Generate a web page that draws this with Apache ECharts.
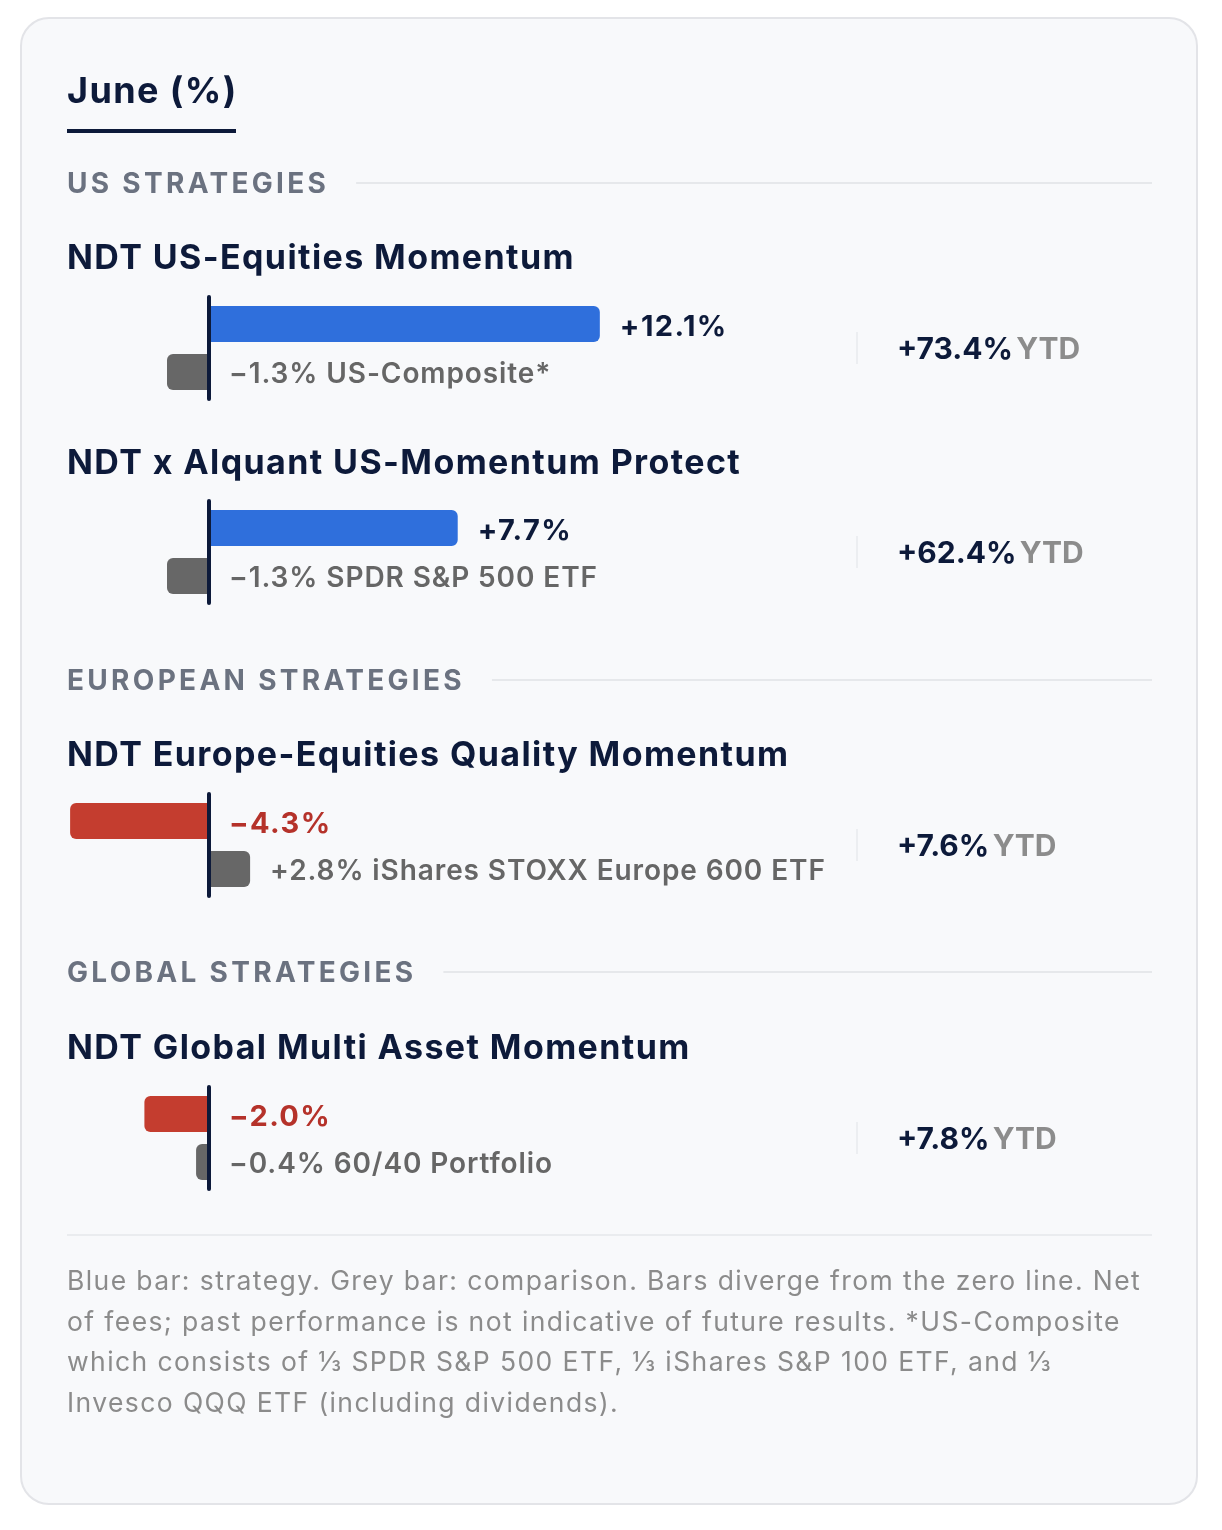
<!DOCTYPE html>
<html>
<head>
<meta charset="utf-8">
<script src="https://cdn.jsdelivr.net/npm/echarts@6/dist/echarts.min.js"></script>
<style>
  html, body { margin: 0; padding: 0; background: #ffffff; }
  #main { width: 1222px; height: 1530px; }
</style>
</head>
<body>
<div id="main"></div>
<script>
// ---- data ----
var sectionTitles = ['US STRATEGIES', 'EUROPEAN STRATEGIES', 'GLOBAL STRATEGIES'];
var strategyNames = [
  'NDT US-Equities Momentum',
  'NDT x Alquant US-Momentum Protect',
  'NDT Europe-Equities Quality Momentum',
  'NDT Global Multi Asset Momentum'
];
var strategyReturns = [12.1, 7.7, -4.3, -2.0];
var benchmarkNames = ['US-Composite*', 'SPDR S&P 500 ETF', 'iShares STOXX Europe 600 ETF', '60/40 Portfolio'];
var benchmarkReturns = [-1.3, -1.3, 2.8, -0.4];
var ytdReturns = [73.4, 62.4, 7.6, 7.8];
var footnoteLines = [
  'Blue bar: strategy. Grey bar: comparison. Bars diverge from the zero line. Net',
  'of fees; past performance is not indicative of future results. *US-Composite',
  'which consists of \u2153 SPDR S&P 500 ETF, \u2153 iShares S&P 100 ETF, and \u2153',
  'Invesco QQQ ETF (including dividends).'
];

// ---- layout / style ----
var NAVY = '#0d1a3a';
var BLUE = '#2f6fdc';
var RED = '#c43d2f';
var RED_TXT = '#b5322a';
var GREY = '#676767';
var FONT = 'Inter';
// canvas layers: 0 body, 1 section headings, 2 YTD, 3 comparison bars, 4 zero line
var layerSpacing = [[0, '1.4px'], [1, '3.3px'], [3, '0.9px']];

var rowTop = [297, 501, 794, 1087];
var rowH = 102;
var nameY = [259, 464, 756, 1049];
var sectionY = [185, 682, 974];
var axisMin = -5, axisMax = 20;
var pxPerUnit = 32.3;
var plotLeft = 209 + axisMin * pxPerUnit;          // zero line at x = 209
var plotWidth = (axisMax - axisMin) * pxPerUnit;
var cmpStretch = [1, 1, 2.2, 1];                   // comparison bar scale per row

function fmt(v) {
  return (v >= 0 ? '+' : '\u2212') + Math.abs(v).toFixed(1) + '%';
}

var measureCtx = document.createElement('canvas').getContext('2d');
function textWidth(txt, font, spacing) {
  measureCtx.font = font;
  measureCtx.letterSpacing = spacing;
  return measureCtx.measureText(txt).width;
}

var chart = echarts.init(document.getElementById('main'));
var painter = chart.getZr().painter;
layerSpacing.forEach(function (l) {
  var layer = painter.getLayer && painter.getLayer(l[0]);
  if (layer && layer.ctx) layer.ctx.letterSpacing = l[1];
});

var grids = [], xAxes = [], yAxes = [], series = [];
strategyReturns.forEach(function (v, i) {
  grids.push({
    left: plotLeft, top: rowTop[i], width: plotWidth, height: rowH,
    containLabel: false, outerBoundsMode: 'none'
  });
  xAxes.push({ gridIndex: i, type: 'value', min: axisMin, max: axisMax, show: false });
  xAxes.push({ gridIndex: i, type: 'value', min: axisMin * cmpStretch[i], max: axisMax * cmpStretch[i], show: false });
  // zero line
  yAxes.push({
    gridIndex: i, type: 'category', data: [strategyNames[i]], zlevel: 4,
    axisLine: { show: true, onZero: true, onZeroAxisIndex: 2 * i, lineStyle: { color: NAVY, width: 4 } },
    axisTick: { show: false }, axisLabel: { show: false }, splitLine: { show: false }
  });
  // YTD column
  yAxes.push({
    gridIndex: i, type: 'category', position: 'right', data: [strategyNames[i]], zlevel: 2,
    axisLine: { show: false, onZero: false }, axisTick: { show: false }, splitLine: { show: false },
    axisLabel: {
      margin: 42, padding: [4, 0, 0, 0],
      formatter: function () { return '{v|' + fmt(ytdReturns[i]) + '} {y|YTD}'; },
      rich: {
        v: { fontFamily: FONT, fontSize: 30, fontWeight: 'bold', color: NAVY },
        y: { fontFamily: FONT, fontSize: 30, fontWeight: 'bold', color: '#8c8c8c' }
      }
    }
  });
  series.push({
    type: 'bar', xAxisIndex: 2 * i, yAxisIndex: 2 * i, barWidth: 36, barGap: '33.3%',
    data: [{
      value: v,
      itemStyle: { color: v >= 0 ? BLUE : RED, borderRadius: v >= 0 ? [0, 6, 6, 0] : [6, 0, 0, 6] },
      label: { color: v >= 0 ? NAVY : RED_TXT }
    }],
    label: {
      show: true, position: 'right', distance: 20, offset: [0, 3],
      fontFamily: FONT, fontSize: 29, fontWeight: 'bold',
      formatter: function (p) { return fmt(p.value); }
    }
  });
  series.push({
    type: 'bar', xAxisIndex: 2 * i + 1, yAxisIndex: 2 * i, barWidth: 36, barGap: '33.3%', zlevel: 3,
    data: [{
      value: benchmarkReturns[i],
      itemStyle: { color: GREY, borderRadius: benchmarkReturns[i] >= 0 ? [0, 6, 6, 0] : [6, 0, 0, 6] }
    }],
    label: {
      show: true, position: 'right', distance: 20, offset: [0, 3],
      fontFamily: FONT, fontSize: 28, fontWeight: 600, color: '#666666',
      formatter: function (p) { return fmt(p.value) + ' ' + benchmarkNames[i]; }
    }
  });
});

var graphics = [
  { type: 'rect', z: -10, shape: { x: 21, y: 18, width: 1176, height: 1486, r: 28 },
    style: { fill: '#f8f9fb', stroke: '#e3e4e8', lineWidth: 2 } },
  { type: 'text', z: 10, x: 67, y: 92,
    style: { text: 'June (%)', font: 'bold 36px Inter', fill: NAVY, verticalAlign: 'middle' } },
  { type: 'rect', z: 10, shape: { x: 67, y: 129, width: 169, height: 4 }, style: { fill: NAVY } },
  { type: 'rect', z: 10, shape: { x: 67, y: 1234, width: 1085, height: 2 }, style: { fill: '#eaecef' } },
  { type: 'text', z: 10, x: 67, y: 1262,
    style: { text: footnoteLines.join('\n'), font: '26.5px Inter', lineHeight: 40.6, fill: '#8b8b8b', verticalAlign: 'top' } }
];

var sectionFont = 'bold 28px Inter';
sectionTitles.forEach(function (t, s) {
  graphics.push({ type: 'text', zlevel: 1, z: 10, x: 67, y: sectionY[s],
    style: { text: t, font: sectionFont, fill: '#6b7280', verticalAlign: 'middle' } });
  var lx = 67 + textWidth(t, sectionFont, '3.3px') + 27;
  graphics.push({ type: 'rect', z: 10, shape: { x: lx, y: sectionY[s] - 3, width: 1152 - lx, height: 2 },
    style: { fill: '#e6e8eb' } });
});

strategyNames.forEach(function (n, i) {
  graphics.push({ type: 'text', z: 10, x: 67, y: nameY[i],
    style: { text: n, font: 'bold 34px Inter', fill: NAVY, verticalAlign: 'middle' } });
  graphics.push({ type: 'rect', z: 10, shape: { x: 856, y: rowTop[i] + rowH / 2 - 16, width: 2, height: 32 },
    style: { fill: '#eceef1' } });
});

chart.setOption({
  backgroundColor: '#ffffff',
  animation: false,
  graphic: graphics,
  grid: grids,
  xAxis: xAxes,
  yAxis: yAxes,
  series: series
});
</script>
</body>
</html>
